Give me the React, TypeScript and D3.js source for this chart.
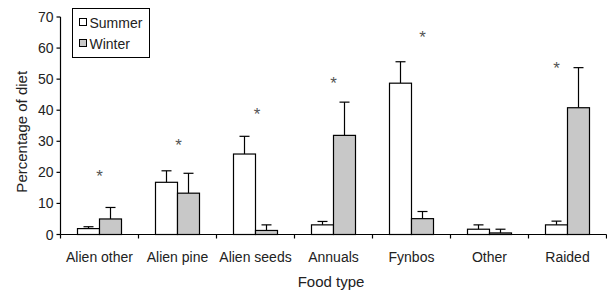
import React, { useEffect, useRef } from "react";
import * as d3 from "d3";

const categories = ["Alien other", "Alien pine", "Alien seeds", "Annuals", "Fynbos", "Other", "Raided"];
const summer = [1.9, 16.8, 25.9, 3.1, 48.7, 1.7, 3.1];
const summerErr = [0.6, 3.7, 5.7, 1.1, 6.9, 1.4, 1.2];
const winter = [5.0, 13.3, 1.3, 31.9, 5.1, 0.5, 40.8];
const winterErr = [3.7, 6.4, 1.8, 10.7, 2.3, 1.2, 12.9];
// significance stars: height and which bar they sit over (-1 summer, 0 middle, 1 winter)
const starY = [20, 30, 40, 50, 65, null, 55];
const starPos = [0, 0.1, 0.15, 0, 1, 0, -1];
const yTicks = [0, 10, 20, 30, 40, 50, 60, 70];

const W = 607;
const H = 292;
const font = "Liberation Sans, Arial, sans-serif";

const App: React.FC = () => {
  const svgRef = useRef<SVGSVGElement | null>(null);

  useEffect(() => {
    if (!svgRef.current) return;
    const svg = d3.select(svgRef.current);
    svg.selectAll("*").remove();

    const left = 60.5;
    const right = 606.5;
    const top = 17;
    const bottom = 234.5;

    const x = d3.scaleBand<string>().domain(categories).range([left, right]);
    const y = d3.scaleLinear().domain([0, 70]).range([bottom, top]);
    const bw = 22;

    // y axis
    svg.append("line").attr("x1", left).attr("x2", left).attr("y1", top).attr("y2", bottom)
      .attr("stroke", "#000").attr("stroke-width", 1.2);
    yTicks.forEach((t) => {
      svg.append("line").attr("x1", left - 4).attr("x2", left).attr("y1", y(t)).attr("y2", y(t))
        .attr("stroke", "#000").attr("stroke-width", 1.2);
      svg.append("text").attr("x", left - 7).attr("y", y(t) + 5).attr("text-anchor", "end")
        .attr("font-family", font).attr("font-size", 14).attr("fill", "#222").text(t);
    });

    const g = svg.append("g");
    categories.forEach((c, i) => {
      const cx = (x(c) as number) + x.bandwidth() / 2;
      const bars = [
        { v: summer[i], e: summerErr[i], x0: cx - bw, fill: "#fff" },
        { v: winter[i], e: winterErr[i], x0: cx, fill: "#c8c8c8" },
      ];
      bars.forEach((b) => {
        const mid = b.x0 + bw / 2;
        g.append("line").attr("x1", mid).attr("x2", mid).attr("y1", y(b.v)).attr("y2", y(b.v + b.e))
          .attr("stroke", "#000").attr("stroke-width", 1.2);
        g.append("line").attr("x1", mid - 5).attr("x2", mid + 5).attr("y1", y(b.v + b.e)).attr("y2", y(b.v + b.e))
          .attr("stroke", "#000").attr("stroke-width", 1.2);
        g.append("rect").attr("x", b.x0).attr("y", y(b.v)).attr("width", bw).attr("height", bottom - y(b.v))
          .attr("fill", b.fill).attr("stroke", "#000").attr("stroke-width", 1.2);
      });
      const sy = starY[i];
      if (sy !== null) {
        g.append("text").attr("x", cx + starPos[i] * bw / 2).attr("y", y(sy) + 10).attr("text-anchor", "middle")
          .attr("font-family", font).attr("font-size", 17).attr("fill", "#555").text("*");
      }
      g.append("text").attr("x", cx).attr("y", 261.5).attr("text-anchor", "middle")
        .attr("font-family", font).attr("font-size", 14).attr("fill", "#222").text(c);
    });

    // x axis
    svg.append("line").attr("x1", left).attr("x2", right).attr("y1", bottom).attr("y2", bottom)
      .attr("stroke", "#000").attr("stroke-width", 1.2);
    categories.forEach((c) => {
      const tx = (x(c) as number) + x.bandwidth();
      svg.append("line").attr("x1", tx).attr("x2", tx).attr("y1", bottom).attr("y2", bottom + 4)
        .attr("stroke", "#000").attr("stroke-width", 1.2);
    });
    svg.append("line").attr("x1", left).attr("x2", left).attr("y1", bottom).attr("y2", bottom + 4)
      .attr("stroke", "#000").attr("stroke-width", 1.2);

    // axis titles
    svg.append("text").attr("x", 331).attr("y", 287).attr("text-anchor", "middle")
      .attr("font-family", font).attr("font-size", 15).attr("fill", "#222").text("Food type");
    svg.append("text").attr("transform", `translate(27,${(top + bottom) / 2 + 6}) rotate(-90)`)
      .attr("text-anchor", "middle").attr("font-family", font).attr("font-size", 15).attr("fill", "#222")
      .text("Percentage of diet");

    // legend
    const lg = svg.append("g");
    lg.append("rect").attr("x", 72.5).attr("y", 8.5).attr("width", 77).attr("height", 49)
      .attr("fill", "#fff").attr("stroke", "#000").attr("stroke-width", 1);
    [["Summer", "#fff"], ["Winter", "#c8c8c8"]].forEach(([name, fill], i) => {
      const ly = 22.5 + i * 21;
      lg.append("rect").attr("x", 79.5).attr("y", ly - 4).attr("width", 7).attr("height", 7)
        .attr("fill", fill).attr("stroke", "#000").attr("stroke-width", 1);
      lg.append("text").attr("x", 89.5).attr("y", ly + 5).attr("font-family", font).attr("font-size", 14)
        .attr("fill", "#222").text(name);
    });
  }, []);

  return <svg ref={svgRef} width={W} height={H} style={{ display: "block", position: "absolute", left: 0, top: 0 }} />;
};

export default App;
